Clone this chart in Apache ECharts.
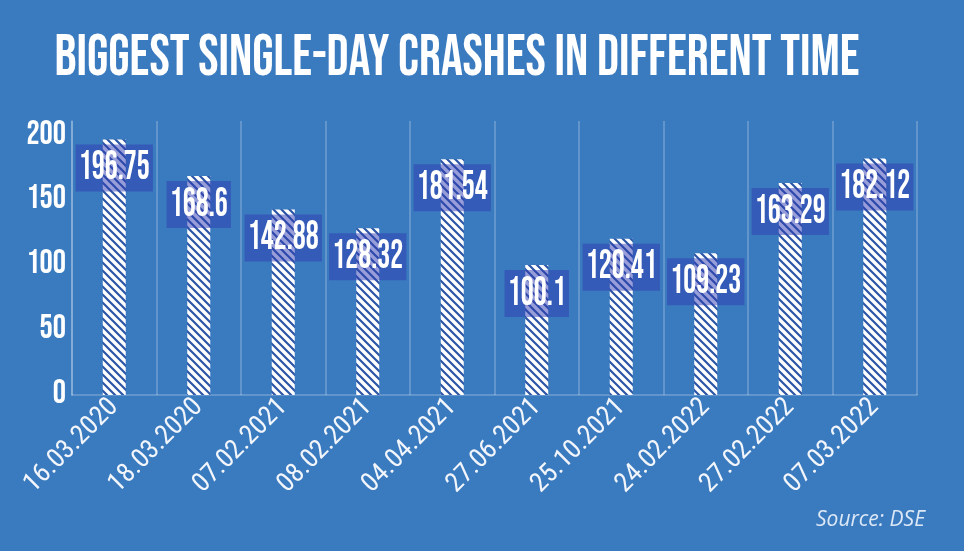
<!DOCTYPE html>
<html>
<head>
<meta charset="utf-8">
<script src="https://cdn.jsdelivr.net/npm/echarts@6/dist/echarts.min.js"></script>
<style>
html,body{margin:0;padding:0;background:#3a7abf;}
#chart{width:964px;height:551px;}
</style>
</head>
<body>
<div id="chart"></div>
<script>
const titleText = 'BIGGEST SINGLE-DAY CRASHES IN DIFFERENT TIME';
const sourceText = 'Source: DSE';
const categories = ['16.03.2020','18.03.2020','07.02.2021','08.02.2021','04.04.2021','27.06.2021','25.10.2021','24.02.2022','27.02.2022','07.03.2022'];
const values = [196.75, 168.6, 142.88, 128.32, 181.54, 100.1, 120.41, 109.23, 163.29, 182.12];
const valueLabels = ['196.75','168.6','142.88','128.32','181.54','100.1','120.41','109.23','163.29','182.12'];

// hatch pattern for bars
function makePattern(){
  const p = 8;
  const c = document.createElement('canvas');
  c.width = p; c.height = p;
  const ctx = c.getContext('2d');
  ctx.fillStyle = '#ffffff';
  ctx.fillRect(0,0,p,p);
  ctx.strokeStyle = '#2c55a6';
  ctx.lineWidth = 2.2;
  ctx.beginPath();
  ctx.moveTo(-1,-1); ctx.lineTo(p+1,p+1);
  ctx.moveTo(p-2,-2); ctx.lineTo(p+2,2);
  ctx.moveTo(-2,p-2); ctx.lineTo(2,p+2);
  ctx.stroke();
  return c;
}

function textWidth(str, font){
  const ctx = document.createElement('canvas').getContext('2d');
  ctx.font = font;
  return ctx.measureText(str).width;
}
const condensed = '"Bebas Neue", "Oswald", "Roboto Condensed", sans-serif';
const titleFont = '59px ' + condensed;
const titleScale = 805 / textWidth(titleText, titleFont);
const labelFont = '41px ' + condensed;
const labelScale = 71 / textWidth('196.75', labelFont);

const chart = echarts.init(document.getElementById('chart'), null, {renderer:'canvas'});
const gridColor = 'rgba(255,255,255,0.28)';
const option = {
  backgroundColor: '#3a7abf',
  animation: false,
  grid: {left: 72, right: 47, top: 121, bottom: 156},
  xAxis: {
    type: 'category',
    data: categories,
    boundaryGap: true,
    axisLine: {show: true, lineStyle: {color: gridColor, width: 1.5}},
    axisTick: {show: false},
    splitLine: {show: true, lineStyle: {color: gridColor, width: 1.5}},
    axisLabel: {
      rotate: 45, margin: 8, color: '#f2f6fb',
      fontFamily: '"Roboto Condensed", "Oswald", sans-serif',
      fontSize: 27, interval: 0
    }
  },
  yAxis: {
    type: 'value',
    min: 0, max: 211, interval: 50,
    axisLine: {show: true, lineStyle: {color: gridColor, width: 1.5}},
    axisTick: {show: false},
    splitLine: {show: false},
    axisLabel: {
      margin: 6, color: '#ffffff', showMaxLabel: false,
      fontFamily: condensed,
      fontSize: 33
    }
  },
  series: [
    {
      type: 'bar',
      data: values,
      barWidth: 23,
      itemStyle: {color: {image: makePattern(), repeat: 'repeat'}},
      z: 2
    },
    {
      type: 'custom',
      data: values.map((v, i) => [i, v]),
      z: 3,
      renderItem: function(params, api){
        const idx = params.dataIndex;
        const p = api.coord([api.value(0), api.value(1)]);
        return {
          type: 'text',
          x: p[0], y: p[1] + 5,
          scaleX: labelScale,
          style: {
            text: valueLabels[idx],
            font: labelFont,
            fill: '#ffffff',
            align: 'center',
            verticalAlign: 'top',
            lineHeight: 41,
            backgroundColor: 'rgba(47,60,178,0.5)',
            padding: [4, 4, 2, 4]
          }
        };
      }
    }
  ],
  graphic: [
    {
      type: 'text',
      x: 457, y: 60,
      scaleX: titleScale, scaleY: 1,
      style: {
        text: titleText,
        font: titleFont,
        fill: '#ffffff',
        align: 'center',
        verticalAlign: 'middle'
      }
    },
    {
      type: 'text',
      x: 925, y: 520,
      style: {
        text: sourceText,
        font: 'italic 21px "Open Sans", "Liberation Sans", sans-serif',
        fill: '#dce8f6',
        align: 'right',
        verticalAlign: 'middle'
      }
    }
  ]
};
chart.setOption(option);
</script>
</body>
</html>
